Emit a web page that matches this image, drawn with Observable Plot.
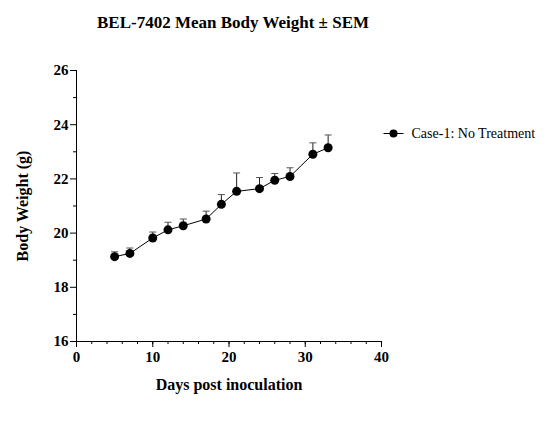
<!DOCTYPE html>
<html>
<head>
<meta charset="utf-8">
<script src="https://cdn.jsdelivr.net/npm/d3@7"></script>
<script src="https://cdn.jsdelivr.net/npm/@observablehq/plot@0.6"></script>
<style>
  html, body { margin: 0; padding: 0; background: #fff; }
</style>
</head>
<body>
<div id="chart"></div>
<script>
const days = [5, 7, 10, 12, 14, 17, 19, 21, 24, 26, 28, 31, 33];
const meanWeight = [19.13, 19.25, 19.82, 20.12, 20.27, 20.52, 21.06, 21.54, 21.64, 21.95, 22.09, 22.91, 23.15];
const semWeight = [0.18, 0.2, 0.22, 0.28, 0.25, 0.29, 0.36, 0.68, 0.41, 0.25, 0.32, 0.42, 0.47];
const xMajorTicks = [0, 10, 20, 30, 40];
const xMinorTicks = d3.range(0, 41, 2);
const yMajorTicks = [16, 18, 20, 22, 24, 26];
const yMinorTicks = [17, 19, 21, 23, 25];
const seriesName = "Case-1: No Treatment";
const titleText = "BEL-7402 Mean Body Weight ± SEM";

const data = days.map((d, i) => ({day: d, mean: meanWeight[i], sem: semWeight[i]}));

const hline = {
  draw(context, size) {
    const r = Math.sqrt(size / Math.PI);
    context.moveTo(-r, 0);
    context.lineTo(r, 0);
  }
};

const serif = "'Liberation Serif', 'Times New Roman', serif";

const chart = Plot.plot({
  width: 544,
  height: 426,
  marginLeft: 76,
  marginRight: 163,
  marginTop: 70,
  marginBottom: 85,
  style: {fontFamily: serif, background: "#fff", color: "#000"},
  x: {domain: [0, 40]},
  y: {domain: [16, 26]},
  marks: [
    // axes lines
    Plot.ruleX([0], {stroke: "#000", strokeWidth: 1}),
    Plot.ruleY([16], {stroke: "#000", strokeWidth: 1}),
    // minor ticks
    Plot.axisX({ticks: xMinorTicks, tickSize: 3, text: null, label: null, stroke: "#000"}),
    Plot.axisY({ticks: yMinorTicks, tickSize: 3, text: null, label: null, stroke: "#000"}),
    // major ticks
    Plot.axisX({ticks: xMajorTicks, tickSize: 6, tickPadding: 4, fontSize: 15, fontWeight: "bold", label: null, stroke: "#000"}),
    Plot.axisY({ticks: yMajorTicks, tickSize: 6, tickPadding: 2, fontSize: 15, fontWeight: "bold", label: null, stroke: "#000"}),
    // axis labels
    Plot.text([0], {text: () => "Days post inoculation", frameAnchor: "bottom", dy: 48, fontSize: 16, fontWeight: "bold", fill: "#000"}),
    Plot.text([0], {text: () => "Body Weight (g)", frameAnchor: "left", textAnchor: "middle", dx: -54, rotate: -90, fontSize: 16, fontWeight: "bold", fill: "#000"}),
    // title
    Plot.text([0], {text: () => titleText, frameAnchor: "top", dx: 4, dy: -55, fontSize: 17, fontWeight: "bold", fill: "#000"}),
    // error bars (upper only)
    Plot.link(data, {x1: "day", x2: "day", y1: "mean", y2: d => d.mean + d.sem, stroke: "#222", strokeWidth: 1}),
    Plot.dot(data, {x: "day", y: d => d.mean + d.sem, symbol: hline, r: 3.5, stroke: "#555", strokeWidth: 1, fill: "none"}),
    // line + dots
    Plot.line(data, {x: "day", y: "mean", stroke: "#000", strokeWidth: 1}),
    Plot.dot(data, {x: "day", y: "mean", r: 4.5, fill: "#000", stroke: "none"}),
    // legend
    Plot.dot([0], {frameAnchor: "top-right", dx: 12, dy: 63, symbol: hline, r: 10, stroke: "#000", strokeWidth: 1, fill: "none"}),
    Plot.dot([0], {frameAnchor: "top-right", dx: 12, dy: 63, r: 4, fill: "#000", stroke: "none"}),
    Plot.text([0], {text: () => seriesName, frameAnchor: "top-right", dx: 30, dy: 63, textAnchor: "start", lineAnchor: "middle", fontSize: 14, fill: "#000"})
  ]
});

document.getElementById("chart").appendChild(chart);
</script>
</body>
</html>
